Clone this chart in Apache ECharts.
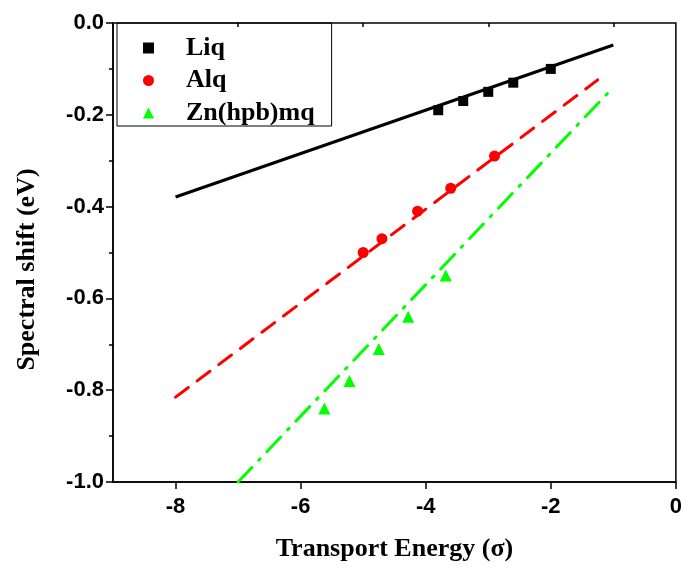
<!DOCTYPE html>
<html><head><meta charset="utf-8">
<script src="https://cdn.jsdelivr.net/npm/echarts@6/dist/echarts.min.js"></script>
<style>html,body{margin:0;padding:0;background:#fff}#c{width:685px;height:572px}</style>
</head><body><div id="c"></div>
<script>
// Data
const seriesNames = ['Liq', 'Alq', 'Zn(hpb)mq'];
const liqPoints = [[-3.8, -0.19], [-3.4, -0.17], [-3.0, -0.15], [-2.6, -0.13], [-2.0, -0.10]];
const alqPoints = [[-5.0, -0.50], [-4.7, -0.47], [-4.13, -0.41], [-3.6, -0.36], [-2.9, -0.29]];
const znPoints = [[-5.62, -0.84], [-5.22, -0.78], [-4.75, -0.71], [-4.28, -0.64], [-3.68, -0.55]];
const liqFit = [[-8, -0.379], [-1, -0.048]];
const alqFit = [[-8, -0.815], [-1.25, -0.124]];
const znFit = [[-7, -1.0], [-1, -0.14]];
const xMajorTicks = [-8, -6, -4, -2, 0];
const xMinorTicks = [-9, -7, -5, -3, -1];

const chart = echarts.init(document.getElementById('c'));
const labelFont = {fontFamily: 'Liberation Sans', fontWeight: 'bold', fontSize: 22, color: '#000'};
const nameFont = {fontFamily: 'Liberation Serif', fontWeight: 'bold', fontSize: 26, color: '#000'};
const axLine = {show: true, onZero: false, lineStyle: {color: '#000', width: 1.5}};
chart.setOption({
  animation: false,
  backgroundColor: '#fff',
  grid: {left: 113, right: 9, top: 23, bottom: 90, show: true, borderColor: '#000', borderWidth: 1.5},
  legend: {
    left: 117, top: 23, orient: 'vertical',
    data: [{name: seriesNames[0], icon: 'rect'}, {name: seriesNames[1], icon: 'circle'}, {name: seriesNames[2], icon: 'triangle'}],
    itemWidth: 11, itemHeight: 11, itemGap: 6.5,
    padding: [12, 17, 0, 26],
    borderColor: '#000', borderWidth: 1,
    textStyle: Object.assign({}, nameFont, {fontSize: 26, lineHeight: 24, padding: [0, 0, 0, 27]})
  },
  xAxis: [{
    type: 'value', min: -9, max: 0,
    name: 'Transport Energy (σ)', nameLocation: 'middle', nameGap: 54, nameTextStyle: nameFont,
    axisLine: axLine,
    axisTick: {show: true, inside: false, length: 7, customValues: xMajorTicks, lineStyle: {color: '#000', width: 1.5}},
    axisLabel: Object.assign({customValues: xMajorTicks, margin: 14, formatter: v => String(v)}, labelFont),
    splitLine: {show: false}
  }, {
    type: 'value', min: -9, max: 0, position: 'bottom',
    axisLine: {show: false},
    axisTick: {show: true, inside: false, length: 4, customValues: xMinorTicks, lineStyle: {color: '#000', width: 1.5}},
    axisLabel: {show: false}, splitLine: {show: false}
  }],
  yAxis: {
    type: 'value', min: -1, max: 0, interval: 0.2,
    name: 'Spectral shift (eV)', nameLocation: 'middle', nameGap: 73,
    nameTextStyle: Object.assign({}, nameFont, {padding: [0, 34, 0, 0]}),
    axisLine: axLine,
    axisTick: {show: true, inside: false, length: 7, lineStyle: {color: '#000', width: 1.5}},
    minorTick: {show: true, splitNumber: 2, length: 4, lineStyle: {color: '#000', width: 1.5}},
    axisLabel: Object.assign({margin: 9, formatter: v => v.toFixed(1)}, labelFont),
    splitLine: {show: false}, minorSplitLine: {show: false}
  },
  series: [
    {name: seriesNames[0] + ' fit', type: 'line', data: liqFit, symbol: 'none', lineStyle: {color: '#000', width: 3}, z: 2},
    {name: seriesNames[1] + ' fit', type: 'line', data: alqFit, symbol: 'none', lineStyle: {color: '#ff0000', width: 3, type: [16, 11], cap: 'round'}, z: 2},
    {name: seriesNames[2] + ' fit', type: 'line', data: znFit, symbol: 'none', lineStyle: {color: '#00ff00', width: 3, type: [20, 10, 2, 10], cap: 'round'}, z: 2},
    {name: seriesNames[0], type: 'scatter', data: liqPoints, symbol: 'rect', symbolSize: 10, itemStyle: {color: '#000', opacity: 1}, z: 3},
    {name: seriesNames[1], type: 'scatter', data: alqPoints, symbol: 'circle', symbolSize: 11, itemStyle: {color: '#ff0000', opacity: 1}, z: 3},
    {name: seriesNames[2], type: 'scatter', data: znPoints, symbol: 'triangle', symbolSize: 12, itemStyle: {color: '#00ff00', opacity: 1}, z: 3}
  ]
});
</script></body></html>
